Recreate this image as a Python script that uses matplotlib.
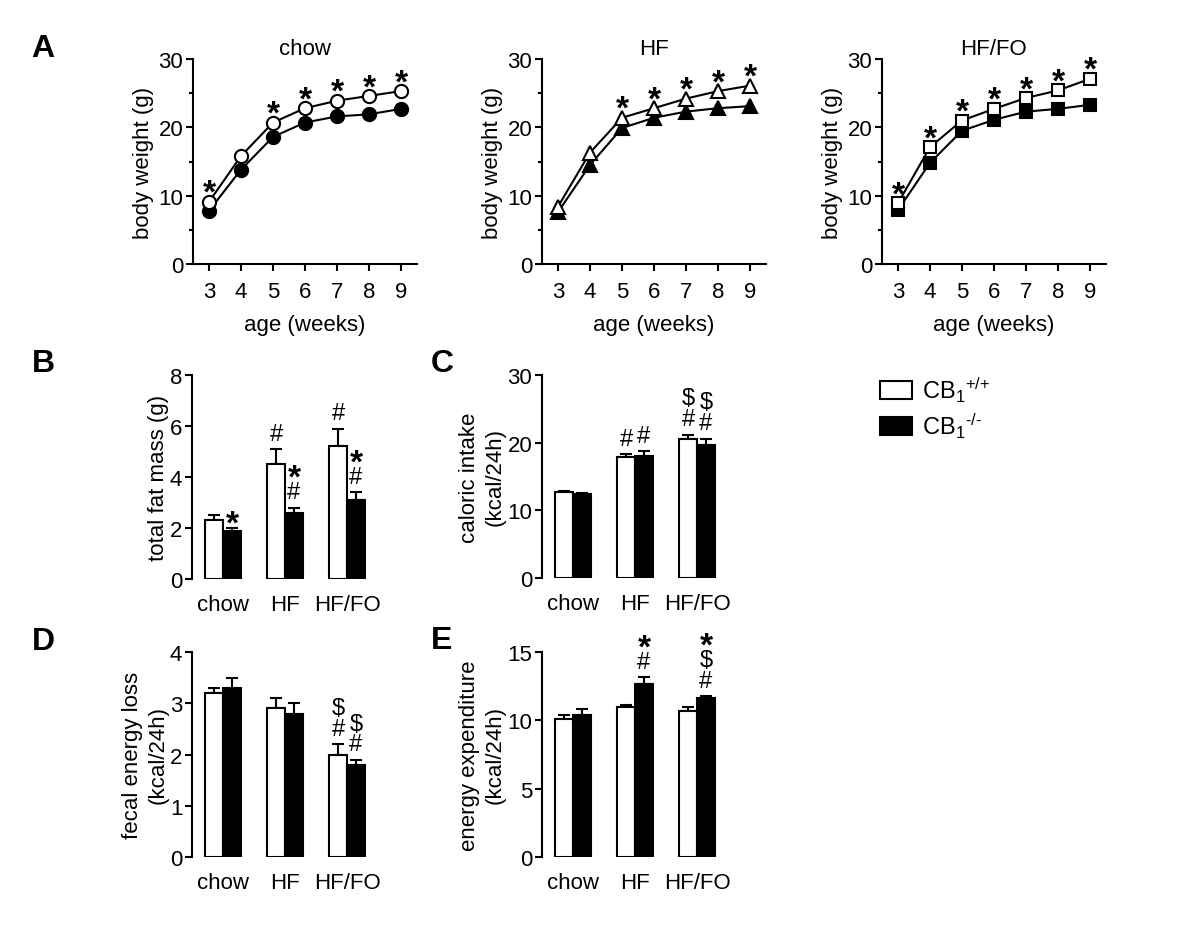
import numpy as np
import matplotlib.pyplot as plt
from matplotlib.patches import Patch

plt.rcParams['font.family'] = ['Liberation Sans', 'DejaVu Sans']
plt.rcParams['mathtext.fontset'] = 'custom'
plt.rcParams['mathtext.rm'] = 'Liberation Sans'
plt.rcParams['mathtext.it'] = 'Liberation Sans:italic'
plt.rcParams['mathtext.bf'] = 'Liberation Sans:bold'

# ---- panel A: body weight over age ----
weeks = [3, 4, 5, 6, 7, 8, 9]

chow_wt = [9.1, 15.8, 20.7, 22.8, 23.9, 24.6, 25.3]
chow_ko = [7.8, 13.8, 18.6, 20.7, 21.6, 21.9, 22.7]
chow_sig = [3, 5, 6, 7, 8, 9]

hf_wt = [8.4, 16.3, 21.4, 22.8, 24.2, 25.3, 26.1]
hf_ko = [7.6, 14.5, 19.9, 21.4, 22.3, 22.8, 23.1]
hf_sig = [5, 6, 7, 8, 9]

hffo_wt = [8.9, 17.1, 21.0, 22.7, 24.3, 25.4, 27.1]
hffo_ko = [7.9, 14.8, 19.5, 21.1, 22.3, 22.7, 23.3]
hffo_sig = [3, 4, 5, 6, 7, 8, 9]

# ---- panels B-E: bars per diet ----
diets = ['chow', 'HF', 'HF/FO']

fat_wt = [2.3, 4.5, 5.2]
fat_wt_err = [0.2, 0.6, 0.7]
fat_ko = [1.9, 2.6, 3.1]
fat_ko_err = [0.1, 0.2, 0.3]
fat_wt_marks = [[], ['#'], ['#']]
fat_ko_marks = [['*'], ['#', '*'], ['#', '*']]

intake_wt = [12.7, 17.85, 20.5]
intake_wt_err = [0.2, 0.5, 0.7]
intake_ko = [12.4, 18.0, 19.6]
intake_ko_err = [0.15, 0.7, 1.0]
intake_wt_marks = [[], ['#'], ['#', '$']]
intake_ko_marks = [[], ['#'], ['#', '$']]

fecal_wt = [3.2, 2.9, 2.0]
fecal_wt_err = [0.1, 0.2, 0.2]
fecal_ko = [3.3, 2.8, 1.8]
fecal_ko_err = [0.2, 0.2, 0.1]
fecal_wt_marks = [[], [], ['#', '$']]
fecal_ko_marks = [[], [], ['#', '$']]

expend_wt = [10.1, 10.95, 10.65]
expend_wt_err = [0.3, 0.2, 0.3]
expend_ko = [10.4, 12.65, 11.6]
expend_ko_err = [0.4, 0.5, 0.15]
expend_wt_marks = [[], [], []]
expend_ko_marks = [[], ['#', '*'], ['#', '$', '*']]

W, H = 1200, 929
fig = plt.figure(figsize=(W / 100, H / 100), dpi=100)

FS = 16
LW = 1.5


def px_axes(left, top, right, bottom):
    return fig.add_axes([left / W, 1 - bottom / H, (right - left) / W, (bottom - top) / H])


def mark_text(ax, x, y, sym, off, stacked=False):
    # asterisk glyph sits high in its box, so pull it down a bit
    if sym == '*':
        size, weight = 24, 'bold'
        dy = off - (5 if stacked else 8)
    else:
        size, weight = 17, 'normal'
        dy = off
    ax.annotate(sym, (x, y), xytext=(0, dy), textcoords='offset points',
                ha='center', va='center', fontsize=size, fontweight=weight,
                clip_on=False)


def line_panel(left, title, wt, ko, sig, marker):
    ax = px_axes(left, 60, left + 224, 265)
    ms = 9.5 if marker != 's' else 8.5
    ax.plot(weeks, wt, color='black', lw=LW, marker=marker, ms=ms,
            mfc='white', mec='black', mew=LW, zorder=3)
    ax.plot(weeks, ko, color='black', lw=LW, marker=marker, ms=ms,
            mfc='black', mec='black', mew=LW, zorder=2)
    for w in sig:
        mark_text(ax, w, wt[weeks.index(w)], '*', 14)
    ax.set_xlim(2.5, 9.5)
    ax.set_ylim(0, 30)
    ax.set_xticks(weeks)
    ax.set_yticks([0, 10, 20, 30])
    ax.set_yticks([5, 15, 25], minor=True)
    ax.spines[['top', 'right']].set_visible(False)
    ax.spines[['left', 'bottom']].set_linewidth(LW)
    ax.tick_params(which='major', width=LW, length=5, labelsize=FS, pad=2)
    ax.tick_params(which='minor', width=LW, length=3)
    ax.tick_params(axis='x', pad=7)
    ax.set_title(title, fontsize=FS, pad=3)
    ax.set_xlabel('age (weeks)', fontsize=FS, labelpad=9)
    ax.set_ylabel('body weight (g)', fontsize=FS, labelpad=3)
    return ax


def bar_panel(left, top, bottom, ymax, yticks, ylabel, wt, wt_err, ko, ko_err,
              wt_marks, ko_marks):
    ax = px_axes(left, top, left + 186, bottom)
    x = np.arange(len(diets))
    bw = 0.29
    ax.bar(x - bw / 2, wt, bw, color='white', edgecolor='black', lw=LW, zorder=2)
    ax.bar(x + bw / 2, ko, bw, color='black', edgecolor='black', lw=LW, zorder=2)
    ax.errorbar(x - bw / 2, wt, yerr=[np.zeros(3), wt_err], fmt='none', ecolor='black',
                elinewidth=LW, capsize=4, capthick=LW, zorder=1)
    ax.errorbar(x + bw / 2, ko, yerr=[np.zeros(3), ko_err], fmt='none', ecolor='black',
                elinewidth=LW, capsize=4, capthick=LW, zorder=1)
    for i in range(len(diets)):
        for j, s in enumerate(wt_marks[i]):
            mark_text(ax, x[i] - bw / 2, wt[i] + wt_err[i], s, 11 + 15 * j, j > 0)
        for j, s in enumerate(ko_marks[i]):
            mark_text(ax, x[i] + bw / 2, ko[i] + ko_err[i], s, 11 + 15 * j, j > 0)
    ax.set_xlim(-0.5, 2.5)
    ax.set_ylim(0, ymax)
    ax.set_yticks(yticks)
    ax.set_xticks(x)
    ax.set_xticklabels(diets)
    ax.spines[['top', 'right', 'bottom']].set_visible(False)
    ax.spines['left'].set_linewidth(LW)
    ax.tick_params(axis='y', width=LW, length=5, labelsize=FS, pad=2)
    ax.tick_params(axis='x', length=0, labelsize=FS, pad=11)
    ax.set_ylabel(ylabel, fontsize=FS, labelpad=1, linespacing=1.3)
    return ax


line_panel(193, 'chow', chow_wt, chow_ko, chow_sig, 'o')
line_panel(542, 'HF', hf_wt, hf_ko, hf_sig, '^')
line_panel(882, 'HF/FO', hffo_wt, hffo_ko, hffo_sig, 's')

bar_panel(192, 376, 580, 8, [0, 2, 4, 6, 8], 'total fat mass (g)',
          fat_wt, fat_wt_err, fat_ko, fat_ko_err, fat_wt_marks, fat_ko_marks)
bar_panel(542, 376, 579, 30, [0, 10, 20, 30], 'caloric intake\n(kcal/24h)',
          intake_wt, intake_wt_err, intake_ko, intake_ko_err, intake_wt_marks, intake_ko_marks)
bar_panel(192, 653, 858, 4, [0, 1, 2, 3, 4], 'fecal energy loss\n(kcal/24h)',
          fecal_wt, fecal_wt_err, fecal_ko, fecal_ko_err, fecal_wt_marks, fecal_ko_marks)
bar_panel(542, 653, 858, 15, [0, 5, 10, 15], 'energy expenditure\n(kcal/24h)',
          expend_wt, expend_wt_err, expend_ko, expend_ko_err, expend_wt_marks, expend_ko_marks)

# panel letters
for letter, (px, py) in {'A': (43, 49), 'B': (43, 364), 'C': (442, 364),
                         'D': (43, 642), 'E': (442, 641)}.items():
    fig.text(px / W, 1 - py / H, letter, fontsize=23, fontweight='bold',
             ha='center', va='center')

handles = [Patch(facecolor='white', edgecolor='black', lw=LW),
           Patch(facecolor='black', edgecolor='black', lw=LW)]
fig.legend(handles, [r'CB$_1{}^{\text{+/+}}$', r'CB$_1{}^{\text{-/-}}$'], loc='upper left',
           bbox_to_anchor=(880 / W, 1 - 376 / H), frameon=False, fontsize=17,
           handlelength=1.35, handleheight=0.75, handletextpad=0.45, labelspacing=0.3,
           borderpad=0, borderaxespad=0)

fig.savefig('out.png', dpi=100)
